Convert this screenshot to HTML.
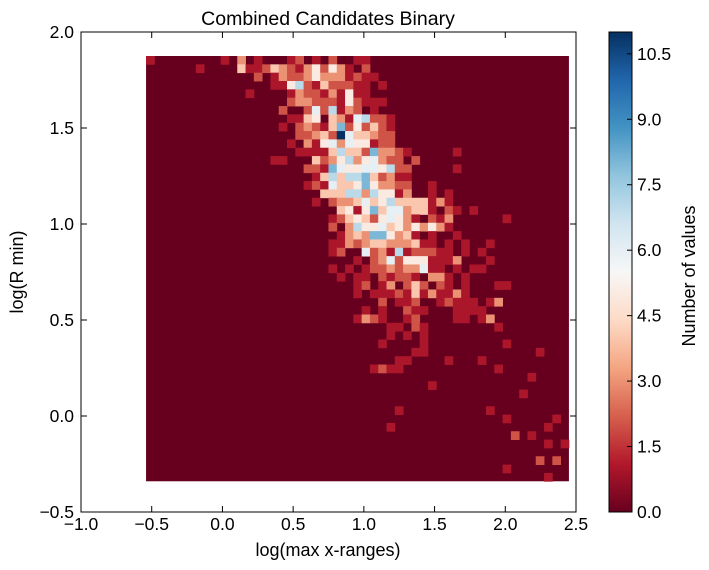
<!DOCTYPE html>
<html><head><meta charset="utf-8">
<style>
html,body{margin:0;padding:0;background:#fff;}
svg{display:block;font-family:"Liberation Sans","DejaVu Sans",sans-serif;}
</style></head>
<body>
<svg id="chart" width="709" height="570" viewBox="0 0 709 570" xmlns="http://www.w3.org/2000/svg">
<rect width="709" height="570" fill="#fff"/>
<text x="328" y="25" font-size="19.5" text-anchor="middle">Combined Candidates Binary</text>
<g id="cells"></g>
<rect x="81" y="32" width="495" height="480" fill="none" stroke="#000" stroke-width="1"/>
<g id="axes"></g>
<text x="328" y="556" font-size="18" text-anchor="middle">log(max x-ranges)</text>
<text x="0" y="0" font-size="18" text-anchor="middle" transform="translate(23,272) rotate(-90)">log(R min)</text>
<defs>
<linearGradient id="cbgrad" x1="0" y1="1" x2="0" y2="0">
<stop offset="0" stop-color="#67001f"/><stop offset="0.1" stop-color="#b2182b"/><stop offset="0.2" stop-color="#d6604d"/><stop offset="0.3" stop-color="#f4a582"/><stop offset="0.4" stop-color="#fddbc7"/><stop offset="0.5" stop-color="#f7f7f7"/><stop offset="0.6" stop-color="#d1e5f0"/><stop offset="0.7" stop-color="#92c5de"/><stop offset="0.8" stop-color="#4393c3"/><stop offset="0.9" stop-color="#2166ac"/><stop offset="1" stop-color="#053061"/>
</linearGradient>
</defs>
<rect x="609" y="32" width="23" height="480" fill="url(#cbgrad)" stroke="#000" stroke-width="1"/>
<g id="cbticks"></g>
<text x="0" y="0" font-size="18" text-anchor="middle" transform="translate(695,276) rotate(-90)">Number of values</text>
</svg>
<script>
const xTicks = [-1.0, -0.5, 0.0, 0.5, 1.0, 1.5, 2.0, 2.5];
const yTicks = [-0.5, 0.0, 0.5, 1.0, 1.5, 2.0];
const cbTicks = [0.0, 1.5, 3.0, 4.5, 6.0, 7.5, 9.0, 10.5];
const xBinRange = [-0.54, 2.45];
const yBinRange = [-0.34, 1.875];
const nBins = 51;
const vMax = 11;
// row 0 = top (highest y); entries "col:count"
const rowCounts = [
"0:1 9:1 11:3 13:1 17:1 18:2 20:1 22:2 25:1 26:1",
"6:1 11:4 12:1 13:1 14:2 15:4 16:3 17:2 18:1 19:3 20:5 21:2 22:5 23:3 24:1 26:2",
"13:2 15:1 16:3 17:2 18:2 19:3 20:5 21:3 22:3 23:3 24:1 25:2 26:1 27:1",
"15:1 16:1 17:5 18:7 19:2 20:1 21:4 22:2 23:2 24:2 25:1 26:1 28:1",
"12:1 17:1 18:3 19:2 20:2 21:1 22:3 23:1 24:5 25:1 26:1",
"17:2 18:3 19:3 20:2 21:2 22:2 23:1 24:5 25:2 26:1 27:1 28:1",
"16:2 19:2 20:6 21:2 22:7 23:1 24:3 25:2 27:1",
"17:1 18:1 19:4 20:5 22:4 23:3 24:1 25:6 26:7 27:2 28:2 29:1",
"16:1 18:2 19:3 20:2 21:1 22:4 23:8 24:2 25:5 26:2 27:4 28:2 29:1",
"18:2 19:2 20:3 21:4 22:2 23:11 24:6 25:4 26:4 27:3 28:2 29:2",
"17:1 19:3 20:1 21:5 22:6 23:3 24:6 25:5 26:5 27:1 28:2 29:2",
"18:1 19:1 20:1 21:1 22:4 23:7 24:4 25:4 26:2 27:8 28:3 29:3 30:2 31:1 37:1",
"15:1 16:1 20:4 21:2 22:3 23:5 24:7 25:3 26:5 27:6 28:3 29:2 30:2 32:2",
"19:2 20:2 21:1 22:8 23:6 24:5 25:5 26:6 27:6 28:5 29:7 30:2 31:2 37:1",
"20:1 21:4 22:7 23:4 24:7 25:7 26:8 27:4 28:2 29:3 30:1 31:1",
"19:1 20:2 21:1 22:6 23:4 24:4 25:5 26:8 27:5 28:3 29:3 30:2 31:2 34:1",
"21:4 22:4 23:4 24:7 25:7 26:3 27:7 28:5 29:5 30:1 31:3 34:1 36:1",
"20:1 22:2 23:3 24:3 25:4 26:6 27:4 28:5 29:7 30:4 31:4 32:4 33:4 34:1 35:3 36:1",
"23:4 24:5 25:1 26:5 27:8 28:4 29:6 30:6 31:3 32:4 33:4 34:1 36:2 37:1 39:1",
"22:1 23:2 24:4 25:5 26:4 27:2 28:5 29:6 30:5 31:3 32:1 34:2 35:1 36:3 43:1",
"22:2 24:3 25:7 26:5 27:5 28:6 29:4 30:5 31:3 32:5 33:3 34:5 35:3 36:1",
"23:1 24:3 25:4 26:3 27:8 28:8 29:5 30:3 31:4 32:1 34:1 37:1",
"22:1 23:1 24:3 25:2 26:3 27:4 28:4 29:3 30:3 31:3 32:4 33:1 34:1 36:1 38:1 41:1",
"22:1 23:2 26:6 27:2 28:3 29:1 30:7 31:1 32:2 33:2 34:2 35:1 36:1 38:1 40:1",
"25:1 27:2 28:3 29:6 30:2 31:5 32:5 33:5 34:1 35:1 36:1 37:3 41:1",
"22:1 24:1 26:1 27:2 28:2 29:3 30:2 31:3 32:3 33:6 34:1 35:1 37:1 39:1 40:1",
"23:1 25:1 26:1 28:2 29:1 30:2 31:2 32:1 34:3 35:3 36:1 38:1",
"25:1 26:2 28:1 29:3 31:2 32:4 33:2 35:2 36:1 38:1 42:1 43:1",
"25:1 27:1 28:1 29:1 30:2 31:1 32:4 33:1 34:3 35:1 36:1 37:3 38:1",
"28:2 30:1 31:1 32:2 35:1 36:2 37:1 38:1 39:1 41:1 42:3",
"26:1 28:1 31:2 32:1 33:1 37:1 38:1 39:1 40:1",
"25:1 26:3 27:2 28:1 31:1 32:2 37:1 38:1 40:1 41:3",
"29:1 30:1 32:2 33:1 42:1",
"29:1 31:1 33:1",
"28:1 33:1 43:1",
"32:1 33:1 47:1",
"30:1 31:1 36:1 40:1",
"27:1 28:2 29:1 30:1 42:1",
"46:1",
"34:1",
"45:1",
"",
"30:1 41:1",
"43:1 49:1",
"29:1 48:1",
"44:2 46:1",
"48:1 50:1",
"",
"47:2 49:2",
"43:1",
"48:1"
];

const NS = "http://www.w3.org/2000/svg";
const X0 = 81, X1 = 576, Y0 = 32, Y1 = 512;
function sx(v){ return X0 + (v - (-1.0)) / (2.5 - (-1.0)) * (X1 - X0); }
function sy(v){ return Y1 - (v - (-0.5)) / (2.0 - (-0.5)) * (Y1 - Y0); }
const stops = ["#67001f","#b2182b","#d6604d","#f4a582","#fddbc7","#f7f7f7","#d1e5f0","#92c5de","#4393c3","#2166ac","#053061"];
function hex(c){ return [parseInt(c.substr(1,2),16),parseInt(c.substr(3,2),16),parseInt(c.substr(5,2),16)]; }
function cmap(v){
  let t = Math.max(0, Math.min(1, v / vMax)) * 10;
  let i = Math.min(9, Math.floor(t)), f = t - i;
  const a = hex(stops[i]), b = hex(stops[i+1]);
  return "rgb(" + a.map((x,k)=>Math.round(x + (b[k]-x)*f)).join(",") + ")";
}
const cellsG = document.getElementById("cells");
const bw = (xBinRange[1]-xBinRange[0]) / nBins;
const bh = (yBinRange[1]-yBinRange[0]) / nBins;
const bg = document.createElementNS(NS, "rect");


bg.setAttribute("x", sx(xBinRange[0])); bg.setAttribute("y", sy(yBinRange[1]));
bg.setAttribute("width", sx(xBinRange[1]) - sx(xBinRange[0]));
bg.setAttribute("height", sy(yBinRange[0]) - sy(yBinRange[1]));
bg.setAttribute("fill", cmap(0));
cellsG.appendChild(bg);
rowCounts.forEach((row, r) => {
  if (!row) return;
  row.split(" ").forEach(p => {
    const [c, v] = p.split(":").map(Number);
    const xa = xBinRange[0] + c*bw, xb = xa + bw;
    const ya = yBinRange[1] - r*bh, yb = ya - bh;
    const el = document.createElementNS(NS, "rect");
    
    
    el.setAttribute("x", sx(xa).toFixed(2)); el.setAttribute("y", sy(ya).toFixed(2));
    el.setAttribute("width", (sx(xb)-sx(xa)+0.4).toFixed(2));
    el.setAttribute("height", (sy(yb)-sy(ya)+0.4).toFixed(2));
    el.setAttribute("fill", cmap(v));
    cellsG.appendChild(el);
  });
});
const axes = document.getElementById("axes");
function line(x1,y1,x2,y2,name){
  const l = document.createElementNS(NS,"line");
  
  
  l.setAttribute("x1",x1);l.setAttribute("y1",y1);l.setAttribute("x2",x2);l.setAttribute("y2",y2);
  l.setAttribute("stroke","#000");l.setAttribute("stroke-width","1");
  return l;
}
function text(x,y,s,anchor,name,g){
  const t = document.createElementNS(NS,"text");
  
  
  t.setAttribute("x",x);t.setAttribute("y",y);t.setAttribute("font-size","17.5");
  t.setAttribute("text-anchor",anchor);t.textContent=s;g.appendChild(t);
}
xTicks.forEach(v => {
  const x = sx(v);
  axes.appendChild(line(x,Y1,x,Y1-6,"x-tick"));
  axes.appendChild(line(x,Y0,x,Y0+6,"x-tick-top"));
  text(x, 530, (v<0?"\u2212":"")+Math.abs(v).toFixed(1), "middle", "x-tick-label", axes);
});
yTicks.forEach(v => {
  const y = sy(v);
  axes.appendChild(line(X0,y,X0+6,y,"y-tick"));
  axes.appendChild(line(X1,y,X1-6,y,"y-tick-right"));
  text(74, y+6, (v<0?"\u2212":"")+Math.abs(v).toFixed(1), "end", "y-tick-label", axes);
});
const cbg = document.getElementById("cbticks");
cbTicks.forEach(v => {
  const y = Y1 - v/vMax*(Y1-Y0);
  cbg.appendChild(line(632,y,627,y,"colorbar-tick"));
  text(637, y+6, v.toFixed(1), "start", "colorbar-tick-label", cbg);
});
</script>
</body></html>
